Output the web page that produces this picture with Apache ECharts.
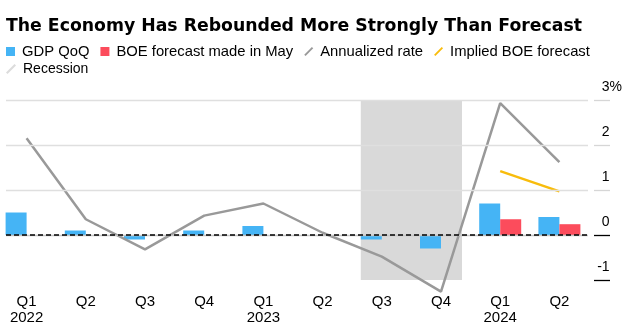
<!DOCTYPE html>
<html>
<head>
<meta charset="utf-8">
<script src="https://cdn.jsdelivr.net/npm/echarts@6/dist/echarts.min.js"></script>
<style>
html,body{margin:0;padding:0;background:#fff;}
#c{width:637px;height:332px;}
</style>
</head>
<body>
<div id="c"></div>
<script>
// ---- data ----
const quarters = ['Q1','Q2','Q3','Q4','Q1','Q2','Q3','Q4','Q1','Q2'];
const years    = ['2022','2022','2022','2022','2023','2023','2023','2023','2024','2024'];
const gdpQoQ      = [0.5, 0.1, -0.1, 0.1, 0.2, 0.0, -0.1, -0.3, 0.7, 0.4];
const boeForecast = [null, null, null, null, null, null, null, null, 0.35, 0.24];
const annualized  = [2.15, 0.35, -0.32, 0.43, 0.70, 0.05, -0.48, -1.26, 2.93, 1.62];
const impliedBoe  = [null, null, null, null, null, null, null, null, 1.42, 0.97];
const recessionStart = 'Q3 2023';
const recessionEnd   = 'Q4 2023';
const yTicks = [-1, 0, 1, 2, 3];

const categories = quarters.map((q, i) => q + ' ' + years[i]);
const recStartIdx = categories.indexOf(recessionStart);
const recEndIdx = categories.indexOf(recessionEnd);

const slash = 'path://M0,8.5L8.5,0L10,1.5L1.5,10Z';
const FONT = "'Liberation Sans', Arial, sans-serif";
const halfPair = 0.355;      // half of the bar pair width, in category units
const gridEnd = 582 / 604;   // fraction of the guide grid where gridlines stop
const tickStart = 588 / 604; // fraction where the right-hand tick segments start
const yMin = yTicks[0], yMax = yTicks[yTicks.length - 1];

const gridLines = yTicks.filter(v => v > yMin).map(v => [
  {xAxis: 0, yAxis: v, lineStyle: {color: v === 0 ? '#c6c6c6' : '#dfdfdf', width: 1.3, type: 'solid'}},
  {xAxis: gridEnd, yAxis: v}
]);

const chart = echarts.init(document.getElementById('c'), null, {renderer: 'canvas'});
const option = {
  animation: false,
  backgroundColor: '#fff',
  textStyle: {fontFamily: FONT},
  title: {
    text: 'The Economy Has Rebounded More Strongly Than Forecast',
    left: 6, top: 18, padding: 0,
    textStyle: {fontFamily: "'DejaVu Sans', sans-serif", fontWeight: 'bold', fontSize: 17.3, color: '#000'}
  },
  legend: [
    {
      left: 6, top: 44, padding: 0, itemWidth: 9, itemHeight: 9, itemGap: 11,
      selectedMode: false,
      textStyle: {fontSize: 14.8, color: '#000', fontFamily: FONT, padding: [0, 0, 0, 2]},
      data: [
        {name: 'GDP QoQ', icon: 'rect', itemStyle: {color: '#45b4f5'}},
        {name: 'BOE forecast made in May', icon: 'rect', itemStyle: {color: '#fc4c5c'}},
        {name: 'Annualized rate', icon: slash, itemStyle: {color: '#999999'}},
        {name: 'Implied BOE forecast', icon: slash, itemStyle: {color: '#f8bc0c'}}
      ]
    },
    {
      left: 6, top: 62, padding: 0, itemWidth: 10, itemHeight: 10, itemGap: 12,
      selectedMode: false,
      textStyle: {fontSize: 14, color: '#000', fontFamily: FONT, padding: [0, 0, 0, 2]},
      data: [{name: 'Recession', icon: slash, itemStyle: {color: '#dcdcdc'}}]
    }
  ],
  grid: [
    {left: -3, width: 592, top: 100, bottom: 52, containLabel: false, outerBoundsMode: 'none'},
    {left: 6, right: 27, top: 100, bottom: 52, containLabel: false, outerBoundsMode: 'none'}
  ],
  xAxis: [
    {
      type: 'category', gridIndex: 0, data: categories,
      axisLine: {show: false},
      axisTick: {alignWithLabel: true, length: 6, lineStyle: {color: '#333', width: 1}},
      axisLabel: {
        fontSize: 15, color: '#000', margin: 14, lineHeight: 16, fontFamily: FONT,
        formatter: (v, i) => quarters[i] + (quarters[i] === 'Q1' ? '\n' + years[i] : '')
      }
    },
    {type: 'value', gridIndex: 1, min: 0, max: 1, show: false},
    {type: 'value', gridIndex: 0, min: -0.5, max: categories.length - 0.5, show: false}
  ],
  yAxis: [
    {type: 'value', gridIndex: 0, min: yMin, max: yMax, interval: 1, show: false},
    {
      type: 'value', gridIndex: 1, min: yMin, max: yMax, interval: 1, position: 'right',
      axisLine: {show: false}, axisTick: {show: false}, splitLine: {show: false},
      axisLabel: {
        show: true, margin: 12, align: 'right', verticalAlign: 'bottom',
        formatter: v => v === yMax ? '{m|' + v + '%}' : '{n|' + v + '}',
        rich: {
          m: {fontSize: 14, color: '#000', fontFamily: FONT, lineHeight: 26},
          n: {fontSize: 14, color: '#000', fontFamily: FONT, lineHeight: 26, padding: [0, 12.4, 0, 0]}
        }
      }
    }
  ],
  series: [
    {
      name: 'gridlines', type: 'line', xAxisIndex: 1, yAxisIndex: 1, data: [], z: 0,
      markLine: {silent: true, symbol: 'none', label: {show: false}, data: gridLines}
    },
    {
      name: 'Recession', type: 'line', xAxisIndex: 2, yAxisIndex: 0, data: [], z: 1,
      itemStyle: {color: '#dcdcdc'}, lineStyle: {color: '#dcdcdc'},
      markArea: {
        silent: true, itemStyle: {color: '#d9d9d9'},
        data: [[{xAxis: recStartIdx - halfPair}, {xAxis: recEndIdx + halfPair}]]
      }
    },
    {
      name: 'GDP QoQ', type: 'bar', xAxisIndex: 0, yAxisIndex: 0, data: gdpQoQ,
      barWidth: 21, barGap: '0%', z: 3, itemStyle: {color: '#45b4f5'}
    },
    {
      name: 'BOE forecast made in May', type: 'bar', xAxisIndex: 0, yAxisIndex: 0, data: boeForecast,
      barWidth: 21, barGap: '0%', z: 3, itemStyle: {color: '#fc4c5c'}
    },
    {
      name: 'Annualized rate', type: 'line', xAxisIndex: 0, yAxisIndex: 0, data: annualized,
      symbol: 'none', clip: false, z: 4, itemStyle: {color: '#999999'}, lineStyle: {color: '#999999', width: 2.5}
    },
    {
      name: 'Implied BOE forecast', type: 'line', xAxisIndex: 0, yAxisIndex: 0, data: impliedBoe,
      symbol: 'none', clip: false, z: 4, itemStyle: {color: '#f8bc0c'}, lineStyle: {color: '#f8bc0c', width: 2.5}
    },
    {
      name: 'zero', type: 'line', xAxisIndex: 1, yAxisIndex: 1, data: [], z: 6,
      markLine: {
        silent: true, symbol: 'none', label: {show: false},
        lineStyle: {color: '#000', type: [5, 3], width: 1.5},
        data: [[{xAxis: 0, yAxis: 0}, {xAxis: gridEnd, yAxis: 0}]]
      }
    }
  ]
};
chart.setOption(option);

// short tick segments beside the right-hand labels, placed through the axis scale
const x0 = chart.convertToPixel({xAxisIndex: 1}, tickStart);
const x1 = chart.convertToPixel({xAxisIndex: 1}, 1);
chart.setOption({
  graphic: yTicks.map(v => {
    const y = Math.round(chart.convertToPixel({yAxisIndex: 1}, v)) + 0.5;
    return {
      type: 'line', silent: true, z: 100,
      shape: {x1: x0, y1: y, x2: x1, y2: y},
      style: {stroke: v <= 0 ? '#000' : '#d6d6d6', lineWidth: 1.3}
    };
  })
});
</script>
</body>
</html>
